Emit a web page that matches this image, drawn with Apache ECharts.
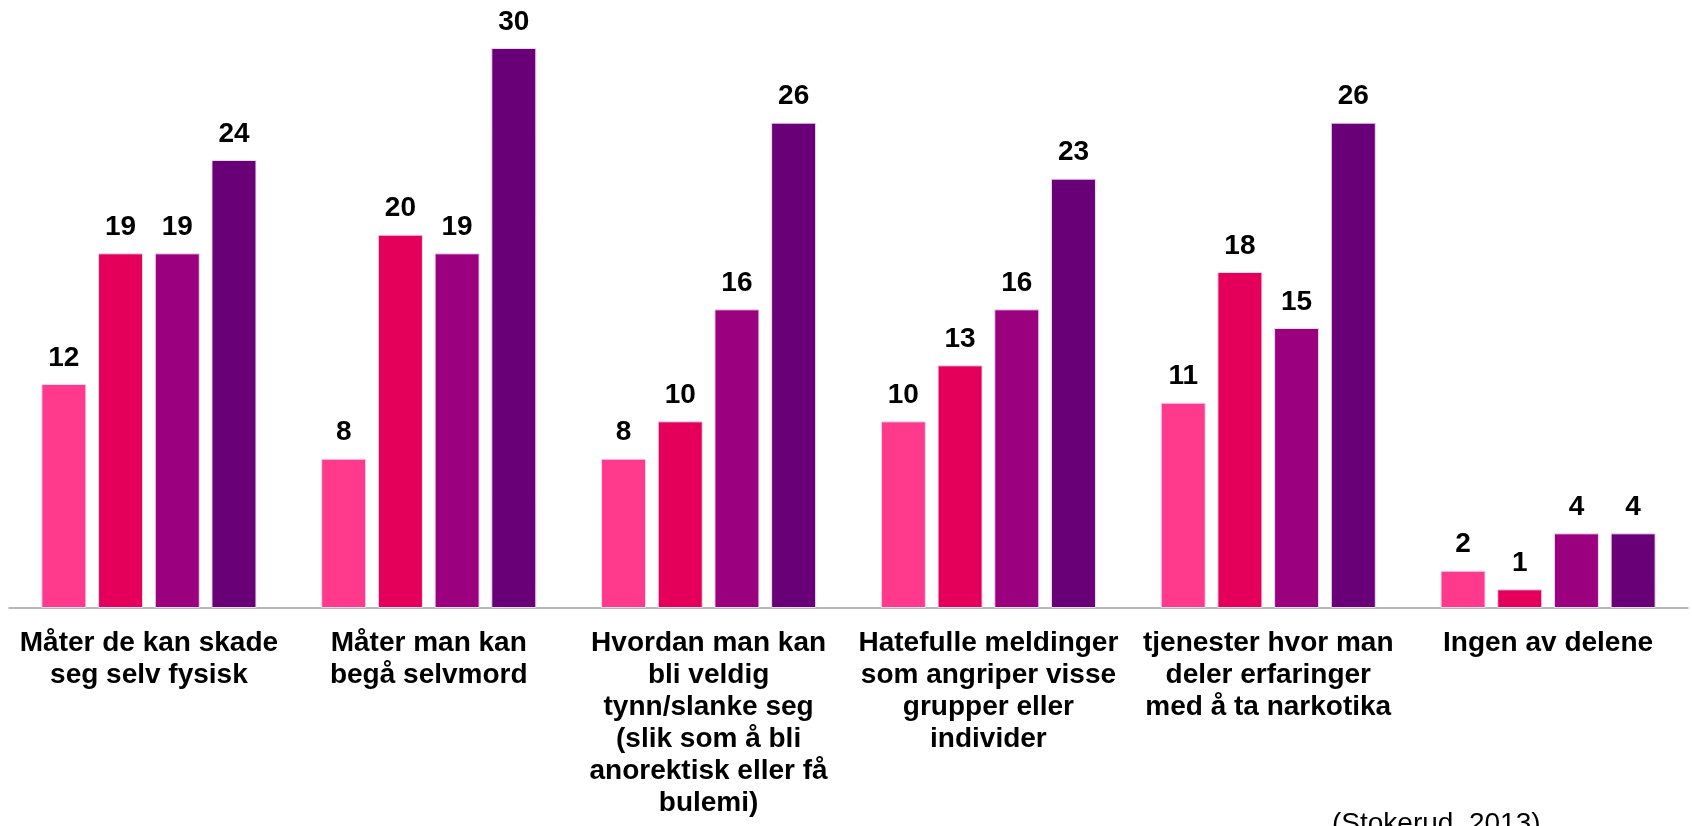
<!DOCTYPE html>
<html>
<head>
<meta charset="utf-8">
<script src="https://cdn.jsdelivr.net/npm/echarts@6/dist/echarts.min.js"></script>
<style>
  html, body { margin: 0; padding: 0; background: #fff; }
  #chart { width: 1692px; height: 826px; }
</style>
</head>
<body>
<div id="chart"></div>
<script>
const categories = [
  'Måter de kan skade\nseg selv fysisk',
  'Måter man kan\nbegå selvmord',
  'Hvordan man kan\nbli veldig\ntynn/slanke seg\n(slik som å bli\nanorektisk eller få\nbulemi)',
  'Hatefulle meldinger\nsom angriper visse\ngrupper eller\nindivider',
  'tjenester hvor man\ndeler erfaringer\nmed å ta narkotika',
  'Ingen av delene'
];
const serie1 = [12, 8, 8, 10, 11, 2];
const serie2 = [19, 20, 10, 13, 18, 1];
const serie3 = [19, 19, 16, 16, 15, 4];
const serie4 = [24, 30, 26, 23, 26, 4];
const colors = ['#ff3a8c', '#e4005a', '#9b007f', '#690078'];

const font = '"Liberation Sans", Arial, sans-serif';
const chart = echarts.init(document.getElementById('chart'));

function bar(name, data, color) {
  return {
    name,
    type: 'bar',
    data,
    barWidth: 45,
    barGap: '26%',
    itemStyle: { color, borderColor: '#eadcf0', borderWidth: 1 },
    label: {
      show: true,
      position: 'top',
      distance: 12,
      color: '#000',
      fontFamily: font,
      fontWeight: 'bold',
      fontSize: 28
    }
  };
}

chart.setOption({
  backgroundColor: '#fff',
  animation: false,
  grid: { left: 9, right: 4, top: 48, bottom: 218 },
  xAxis: {
    type: 'category',
    data: categories,
    axisLine: { lineStyle: { color: '#a0a0a0', width: 1.5 } },
    axisTick: { show: false },
    axisLabel: {
      interval: 0,
      margin: 19,
      color: '#000',
      fontFamily: font,
      fontWeight: 'bold',
      fontSize: 28,
      lineHeight: 32
    }
  },
  yAxis: {
    type: 'value',
    min: 0,
    max: 30,
    show: false,
    splitLine: { show: false }
  },
  series: [
    bar('Serie 1', serie1, colors[0]),
    bar('Serie 2', serie2, colors[1]),
    bar('Serie 3', serie3, colors[2]),
    bar('Serie 4', serie4, colors[3])
  ],
  graphic: [{
    type: 'text',
    left: 1332,
    top: 810,
    style: {
      text: '(Stokerud, 2013)',
      fill: '#000',
      font: '28px "Liberation Sans", Arial, sans-serif'
    }
  }]
});
</script>
</body>
</html>
